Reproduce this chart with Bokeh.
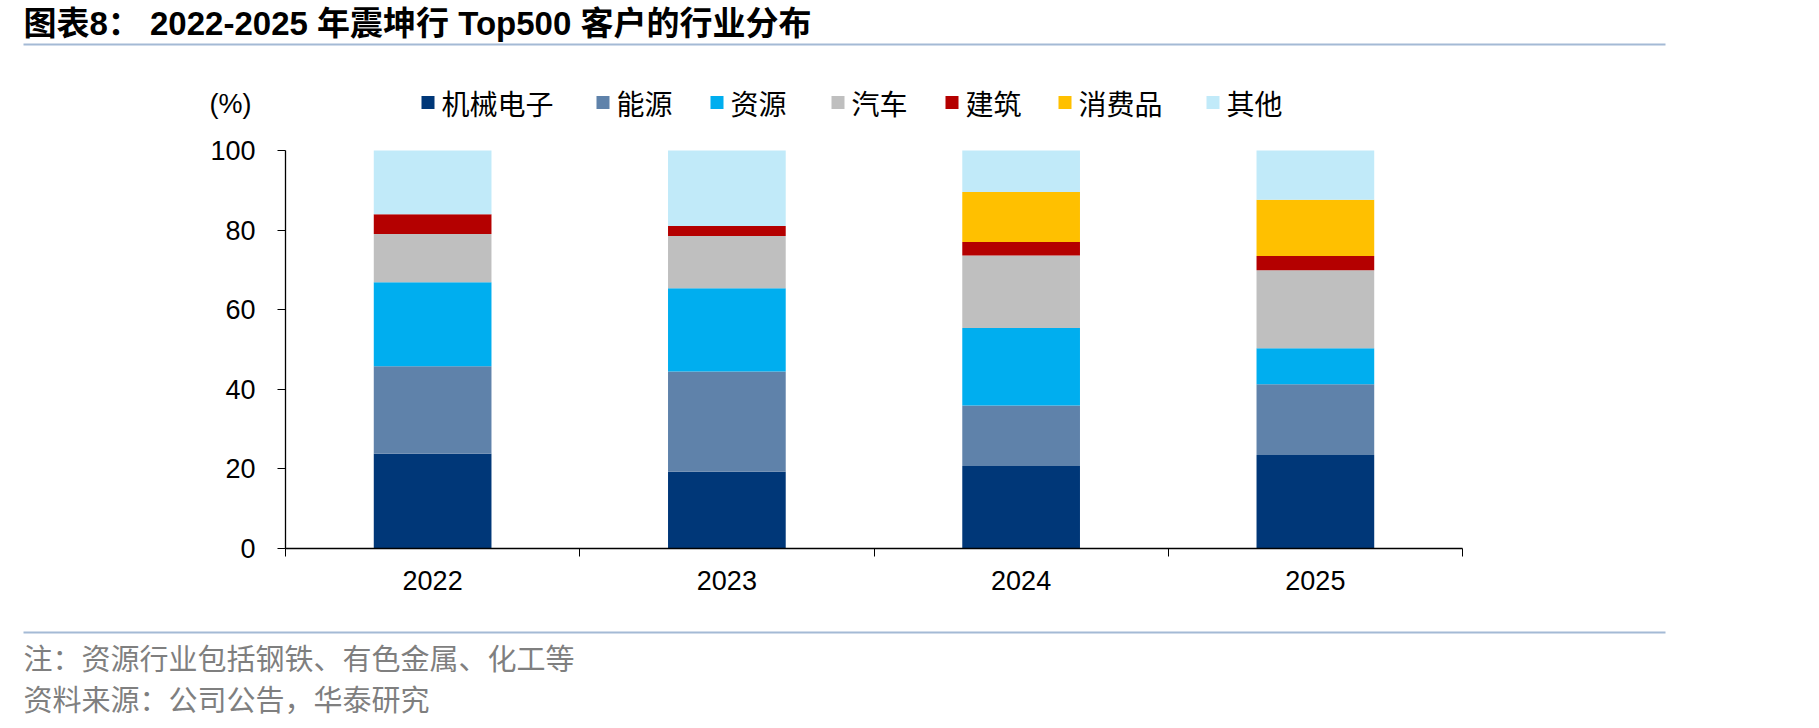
from bokeh.plotting import figure
from bokeh.models import Range1d, FixedTicker, Label, BoxAnnotation
from bokeh.embed import file_html
from bokeh.resources import INLINE

# ---------------- data ----------------
years = ["2022", "2023", "2024", "2025"]
industries = ["机械电子", "能源", "资源", "汽车", "建筑", "消费品", "其他"]
jixie_dianzi = [23.8, 19.3, 20.7, 23.5]
nengyuan = [22.0, 25.2, 15.2, 17.8]
ziyuan = [21.1, 20.9, 19.5, 9.0]
qiche = [12.1, 13.1, 18.2, 19.6]
jianzhu = [5.0, 2.5, 3.4, 3.6]
xiaofeipin = [0.0, 0.0, 12.6, 14.1]
qita = [16.0, 19.0, 10.4, 12.4]
y_ticks = [0, 20, 40, 60, 80, 100]

colors = ["#003778", "#5F82AA", "#00AEEF", "#BFBFBF", "#B40000", "#FFC000", "#C1EAF9"]

W, H = 1819, 728
AL, AR, AT, AB = 285, 1462, 150, 548  # plotting area (axes box) in page px
n = len(years)
kx = (AR - AL) / n          # px per x unit
ky = (AB - AT) / 100.0      # px per y unit

# The frame covers the whole canvas; the axes are pinned at x=0 / y=0 of the data.
p = figure(width=W, height=H, output_backend="svg", toolbar_location=None,
           x_range=Range1d(-AL / kx, n + (W - AR) / kx),
           y_range=Range1d(-(H - AB) / ky, 100 + AT / ky),
           min_border=0)
p.outline_line_color = None
p.xgrid.visible = False
p.ygrid.visible = False
p.background_fill_color = "white"
p.border_fill_color = "white"

xs = [i + 0.5 for i in range(n)]
source = dict(x=xs)
series = [jixie_dianzi, nengyuan, ziyuan, qiche, jianzhu, xiaofeipin, qita]
for name, vals in zip(industries, series):
    source[name] = vals
p.vbar_stack(industries, x="x", width=0.4, color=colors, line_color=None, source=source)

xa = p.xaxis[0]
xa.fixed_location = 0
xa.bounds = (0, n)
xa.ticker = FixedTicker(ticks=xs, minor_ticks=list(range(n + 1)))
xa.major_label_overrides = {x: y for x, y in zip(xs, years)}
xa.major_tick_out = 0
xa.major_tick_in = 0
xa.minor_tick_out = 8
xa.minor_tick_in = 0
xa.minor_tick_line_color = "black"
xa.axis_line_color = "black"
xa.axis_line_width = 1.3
xa.major_label_text_font = "Liberation Sans"
xa.major_label_text_font_size = "27px"
xa.major_label_text_color = "black"
xa.major_label_standoff = 14

ya = p.yaxis[0]
ya.fixed_location = 0
ya.bounds = (0, 100)
ya.ticker = FixedTicker(ticks=y_ticks, minor_ticks=[])
ya.major_tick_out = 8
ya.major_tick_in = 0
ya.major_tick_line_color = "black"
ya.axis_line_color = "black"
ya.axis_line_width = 1.3
ya.major_label_text_font = "Liberation Sans"
ya.major_label_text_font_size = "27px"
ya.major_label_text_color = "black"
ya.major_label_standoff = 22


def dx(px):
    return (px - AL) / kx


def dy(py):
    return (AB - py) / ky


cjk = "Noto Sans CJK SC"

# title and separator lines
p.add_layout(Label(x=dx(23), y=dy(23), text="图表8： 2022-2025 年震坤行 Top500 客户的行业分布",
                   text_font="Liberation Sans, Noto Sans CJK SC", text_font_style="bold",
                   text_font_size="33px", text_color="black", text_baseline="middle", text_align="left"))
for ly in (44, 632):
    p.add_layout(BoxAnnotation(left=dx(23), right=dx(1665), top=dy(ly - 1), bottom=dy(ly + 1),
                               fill_color="#A4BAD5", fill_alpha=1, line_color=None))

# unit label
p.add_layout(Label(x=dx(209), y=dy(103), text="(%)", text_font="Liberation Sans", text_font_size="27px",
                   text_color="black", text_baseline="middle", text_align="left"))

# legend
leg_x = [421, 596, 710, 831, 945, 1058, 1206]
for name, c, lx in zip(industries, colors, leg_x):
    p.add_layout(BoxAnnotation(left=dx(lx), right=dx(lx + 13), top=dy(95.5), bottom=dy(108.5),
                               fill_color=c, fill_alpha=1, line_color=None))
    p.add_layout(Label(x=dx(lx + 20), y=dy(102), text=name, text_font=cjk, text_font_size="28px",
                       text_color="black", text_baseline="middle", text_align="left"))

# footnotes
p.add_layout(Label(x=dx(23), y=dy(656), text="注：资源行业包括钢铁、有色金属、化工等", text_font=cjk,
                   text_font_size="29px", text_color="#7F7F7F", text_baseline="middle", text_align="left"))
p.add_layout(Label(x=dx(23), y=dy(697), text="资料来源：公司公告，华泰研究", text_font=cjk,
                   text_font_size="29px", text_color="#7F7F7F", text_baseline="middle", text_align="left"))

open("out.html", "w").write(file_html(p, INLINE))
